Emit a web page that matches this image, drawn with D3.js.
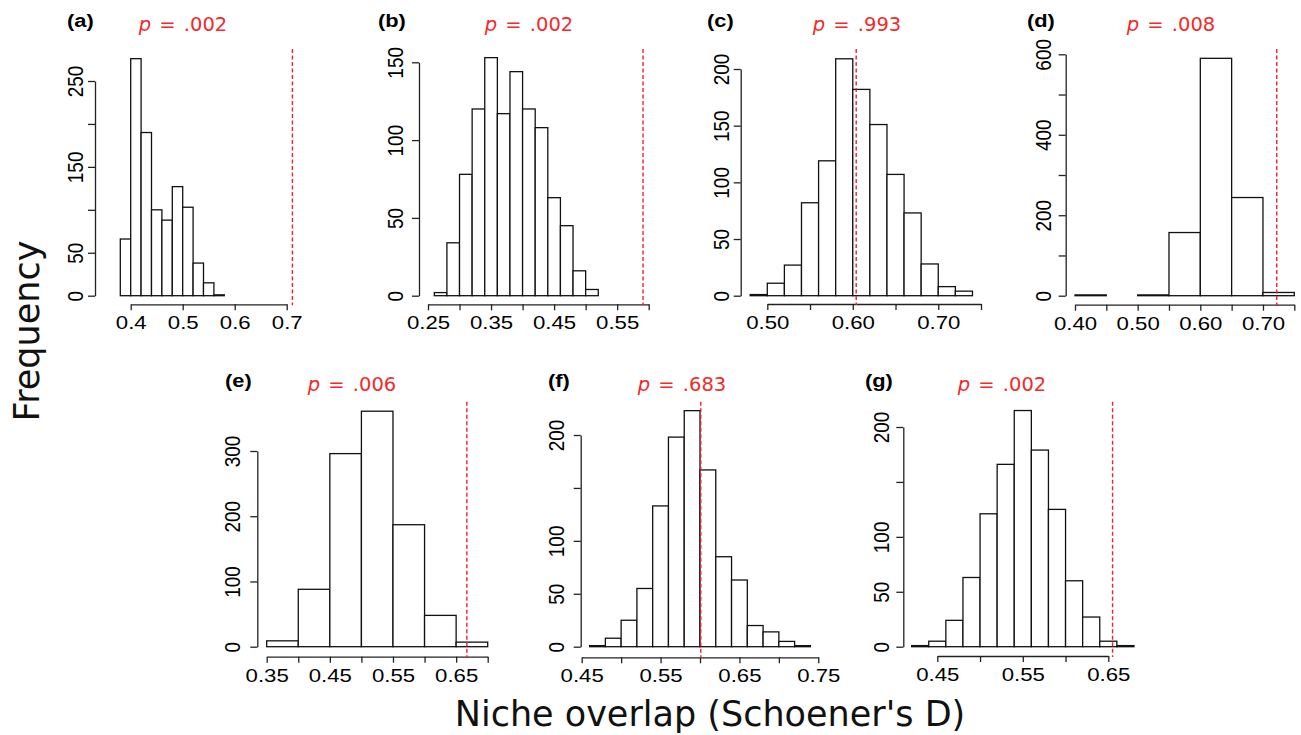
<!DOCTYPE html>
<html>
<head>
<meta charset="utf-8">
<script src="https://cdn.jsdelivr.net/npm/d3@7"></script>
<style>
  html, body { margin: 0; padding: 0; background: #fff; }
  svg { display: block; }
</style>
</head>
<body>
<div id="chart"></div>
<script>
/* Null-model histograms of niche overlap, seven panels */

const panelLetters = ['(a)', '(b)', '(c)', '(d)', '(e)', '(f)', '(g)'];
const pValues = ['.002', '.002', '.993', '.008', '.006', '.683', '.002'];
const observedD = [0.711, 0.591, 0.604, 0.722, 0.667, 0.601, 0.655];

// bin edges and counts
const edgesA = [0.38, 0.40, 0.42, 0.44, 0.46, 0.48, 0.50, 0.52, 0.54, 0.56, 0.58];
const countsA = [66, 276, 190, 100, 88, 127, 103, 38, 15, 1];

const edgesB = [0.26, 0.28, 0.30, 0.32, 0.34, 0.36, 0.38, 0.40, 0.42, 0.44, 0.46, 0.48, 0.50, 0.52];
const countsB = [2, 34, 78, 120, 153, 117, 144, 120, 108, 63, 45, 16, 4];

const edgesC = [0.48, 0.50, 0.52, 0.54, 0.56, 0.58, 0.60, 0.62, 0.64, 0.66, 0.68, 0.70, 0.72, 0.74];
const countsC = [1, 11, 27, 82, 119, 209, 182, 151, 107, 73, 28, 8, 4];

const edgesD = [0.40, 0.45, 0.50, 0.55, 0.60, 0.65, 0.70, 0.75];
const countsD = [2, 0, 2, 157, 590, 244, 8];

const edgesE = [0.35, 0.40, 0.45, 0.50, 0.55, 0.60, 0.65, 0.70];
const countsE = [9, 88, 296, 361, 187, 48, 7];

const edgesF = [0.46, 0.48, 0.50, 0.52, 0.54, 0.56, 0.58, 0.60, 0.62, 0.64, 0.66, 0.68, 0.70, 0.72, 0.74];
const countsF = [1, 8, 25, 55, 133, 198, 223, 167, 85, 63, 20, 14, 5, 1];

const edgesG = [0.42, 0.44, 0.46, 0.48, 0.50, 0.52, 0.54, 0.56, 0.58, 0.60, 0.62, 0.64, 0.66, 0.68];
const countsG = [1, 5, 24, 63, 121, 166, 215, 179, 125, 60, 27, 5, 1];

// axis ticks ('' = tick without label, as R drops crowded labels)
const xTicksA = [0.4, 0.5, 0.6, 0.7];
const xLabelsA = ['0.4', '0.5', '0.6', '0.7'];
const xTicksB = [0.25, 0.30, 0.35, 0.40, 0.45, 0.50, 0.55, 0.60];
const xLabelsB = ['0.25', '', '0.35', '', '0.45', '', '0.55', ''];
const xTicksC = [0.50, 0.55, 0.60, 0.65, 0.70, 0.75];
const xLabelsC = ['0.50', '', '0.60', '', '0.70', ''];
const xTicksD = [0.40, 0.45, 0.50, 0.55, 0.60, 0.65, 0.70, 0.75];
const xLabelsD = ['0.40', '', '0.50', '', '0.60', '', '0.70', ''];
const xTicksE = [0.35, 0.40, 0.45, 0.50, 0.55, 0.60, 0.65, 0.70];
const xLabelsE = ['0.35', '', '0.45', '', '0.55', '', '0.65', ''];
const xTicksF = [0.45, 0.50, 0.55, 0.60, 0.65, 0.70, 0.75];
const xLabelsF = ['0.45', '', '0.55', '', '0.65', '', '0.75'];
const xTicksG = [0.45, 0.50, 0.55, 0.60, 0.65];
const xLabelsG = ['0.45', '', '0.55', '', '0.65'];

const yTicksA = [0, 50, 100, 150, 200, 250];
const yLabelsA = ['0', '50', '', '150', '', '250'];
const yTicksB = [0, 50, 100, 150];
const yLabelsB = ['0', '50', '100', '150'];
const yTicksC = [0, 50, 100, 150, 200];
const yLabelsC = ['0', '50', '100', '150', '200'];
const yTicksD = [0, 100, 200, 300, 400, 500, 600];
const yLabelsD = ['0', '', '200', '', '400', '', '600'];
const yTicksE = [0, 100, 200, 300];
const yLabelsE = ['0', '100', '200', '300'];
const yTicksF = [0, 50, 100, 150, 200];
const yLabelsF = ['0', '50', '100', '', '200'];
const yTicksG = [0, 50, 100, 150, 200];
const yLabelsG = ['0', '50', '100', '', '200'];

// pixel layout of each panel (first/last x tick, y of 0 and top tick, axis lines)
const LAYOUT = [
    { xl: 130.7, xr: 286.7, yb: 295.7, yt: 81, axY: 304.3, axX: 95, gap: 12, top: 49, letterX: 67, pX: 183, rowY: 0 },
    { xl: 428, xr: 648.7, yb: 295.7, yt: 62.3, axY: 304.3, axX: 419, gap: 16, top: 49, letterX: 378, pX: 529, rowY: 0 },
    { xl: 767.3, xr: 981, yb: 295.7, yt: 69, axY: 304, axX: 740.7, gap: 12, top: 49, letterX: 707, pX: 857, rowY: 0 },
    { xl: 1075, xr: 1294.3, yb: 295.7, yt: 54.3, axY: 304.7, axX: 1065.7, gap: 15, top: 49, letterX: 1027, pX: 1171, rowY: 0 },
    { xl: 266.7, xr: 487.7, yb: 646.7, yt: 451, axY: 656.7, axX: 257.3, gap: 17, top: 401.7, letterX: 225, pX: 352, rowY: 360 },
    { xl: 581.7, xr: 818.3, yb: 646.7, yt: 435, axY: 657.3, axX: 580.7, gap: 17, top: 401.7, letterX: 548, pX: 682, rowY: 360 },
    { xl: 937.3, xr: 1108.3, yb: 646.7, yt: 427, axY: 656, axX: 903.3, gap: 14, top: 401.7, letterX: 865, pX: 1002, rowY: 360 },
];

const PANELS = [
    { edges: edgesA, counts: countsA, xTicks: xTicksA, xLabels: xLabelsA, yTicks: yTicksA, yLabels: yLabelsA },
    { edges: edgesB, counts: countsB, xTicks: xTicksB, xLabels: xLabelsB, yTicks: yTicksB, yLabels: yLabelsB },
    { edges: edgesC, counts: countsC, xTicks: xTicksC, xLabels: xLabelsC, yTicks: yTicksC, yLabels: yLabelsC },
    { edges: edgesD, counts: countsD, xTicks: xTicksD, xLabels: xLabelsD, yTicks: yTicksD, yLabels: yLabelsD },
    { edges: edgesE, counts: countsE, xTicks: xTicksE, xLabels: xLabelsE, yTicks: yTicksE, yLabels: yLabelsE },
    { edges: edgesF, counts: countsF, xTicks: xTicksF, xLabels: xLabelsF, yTicks: yTicksF, yLabels: yLabelsF },
    { edges: edgesG, counts: countsG, xTicks: xTicksG, xLabels: xLabelsG, yTicks: yTicksG, yLabels: yLabelsG },
];

const AXIS_COLOR = '#222';
const RED = '#f22a2a';
const TICK_FONT = '"Liberation Sans", Arial, sans-serif';

const svg = d3.select('#chart').append('svg')
    .attr('width', 1301)
    .attr('height', 735);

PANELS.forEach((p, i) => {
    const L = LAYOUT[i];
    const xt = p.xTicks;
    const yt = p.yTicks;

    const x = d3.scaleLinear().domain([xt[0], xt[xt.length - 1]]).range([L.xl, L.xr]);
    const y = d3.scaleLinear().domain([0, yt[yt.length - 1]]).range([L.yb, L.yt]);

    const g = svg.append('g').attr('class', 'panel');

    // Bars (empty bins are not drawn)
    const bins = p.counts
        .map((n, k) => ({ x0: p.edges[k], x1: p.edges[k + 1], n }))
        .filter(d => d.n > 0);

    g.selectAll('rect.bar')
        .data(bins)
        .join('rect')
        .attr('class', 'bar')
        .attr('x', d => x(d.x0))
        .attr('width', d => x(d.x1) - x(d.x0))
        .attr('y', d => y(d.n))
        .attr('height', d => y(0) - y(d.n))
        .attr('fill', '#fff')
        .attr('stroke', '#111')
        .attr('stroke-width', 1.3);

    // x axis
    const xAxis = g.append('g')
        .attr('transform', `translate(0,${L.axY})`)
        .call(d3.axisBottom(x)
            .tickValues(xt)
            .tickSize(6)
            .tickSizeOuter(0)
            .tickPadding(6)
            .tickFormat((d, k) => p.xLabels[k]));
    xAxis.select('.domain').attr('stroke', AXIS_COLOR).attr('stroke-width', 1.3);
    xAxis.selectAll('.tick line').attr('stroke', AXIS_COLOR).attr('stroke-width', 1.3);
    xAxis.selectAll('.tick text')
        .attr('fill', '#000')
        .style('font-family', TICK_FONT)
        .style('font-size', '18.5px')
        .attr('transform', 'scale(1.2,1)');

    // y axis, labels parallel to the axis as in R
    const yAxis = g.append('g')
        .attr('transform', `translate(${L.axX},0)`)
        .call(d3.axisLeft(y)
            .tickValues(yt)
            .tickSize(7)
            .tickSizeOuter(0)
            .tickFormat((d, k) => p.yLabels[k]));
    yAxis.select('.domain').attr('stroke', AXIS_COLOR).attr('stroke-width', 1.3);
    yAxis.selectAll('.tick line').attr('stroke', AXIS_COLOR).attr('stroke-width', 1.3);
    yAxis.selectAll('.tick text')
        .attr('fill', '#000')
        .style('font-family', TICK_FONT)
        .style('font-size', '19px')
        .attr('x', 0)
        .attr('y', -L.gap / 1.2)
        .attr('dy', 0)
        .attr('text-anchor', 'middle')
        .attr('transform', 'rotate(-90) scale(1,1.2)');

    // observed overlap
    g.append('line')
        .attr('x1', x(observedD[i]))
        .attr('x2', x(observedD[i]))
        .attr('y1', L.top)
        .attr('y2', L.axY + 1)
        .attr('stroke', '#ee2229')
        .attr('stroke-width', 1.4)
        .attr('stroke-dasharray', '4,2.5');

    // panel letter
    g.append('text')
        .attr('transform', `translate(${L.letterX},${L.rowY + 27}) scale(1.15,1)`)
        .style('font-family', TICK_FONT)
        .style('font-weight', 'bold')
        .style('font-size', '19px')
        .attr('fill', '#000')
        .text(panelLetters[i]);

    // p value
    const pt = g.append('text')
        .attr('x', L.pX)
        .attr('y', L.rowY + 30.5)
        .attr('text-anchor', 'middle')
        .style('font-family', '"DejaVu Sans", Verdana, sans-serif')
        .style('font-size', '19.5px')
        .attr('fill', RED);
    pt.append('tspan').style('font-style', 'italic').text('p');
    pt.append('tspan').attr('dx', 2).text(' =');
    pt.append('tspan').attr('dx', 2).text(' ' + pValues[i]);
});

// shared axis titles
svg.append('text')
    .attr('transform', 'translate(39,331) rotate(-90)')
    .attr('text-anchor', 'middle')
    .style('font-family', '"DejaVu Sans", Verdana, sans-serif')
    .style('font-size', '35px')
    .attr('fill', '#111')
    .text('Frequency');

svg.append('text')
    .attr('x', 710)
    .attr('y', 726)
    .attr('text-anchor', 'middle')
    .style('font-family', '"DejaVu Sans", Verdana, sans-serif')
    .style('font-size', '35px')
    .attr('fill', '#111')
    .text("Niche overlap (Schoener's D)");
</script>
</body>
</html>
